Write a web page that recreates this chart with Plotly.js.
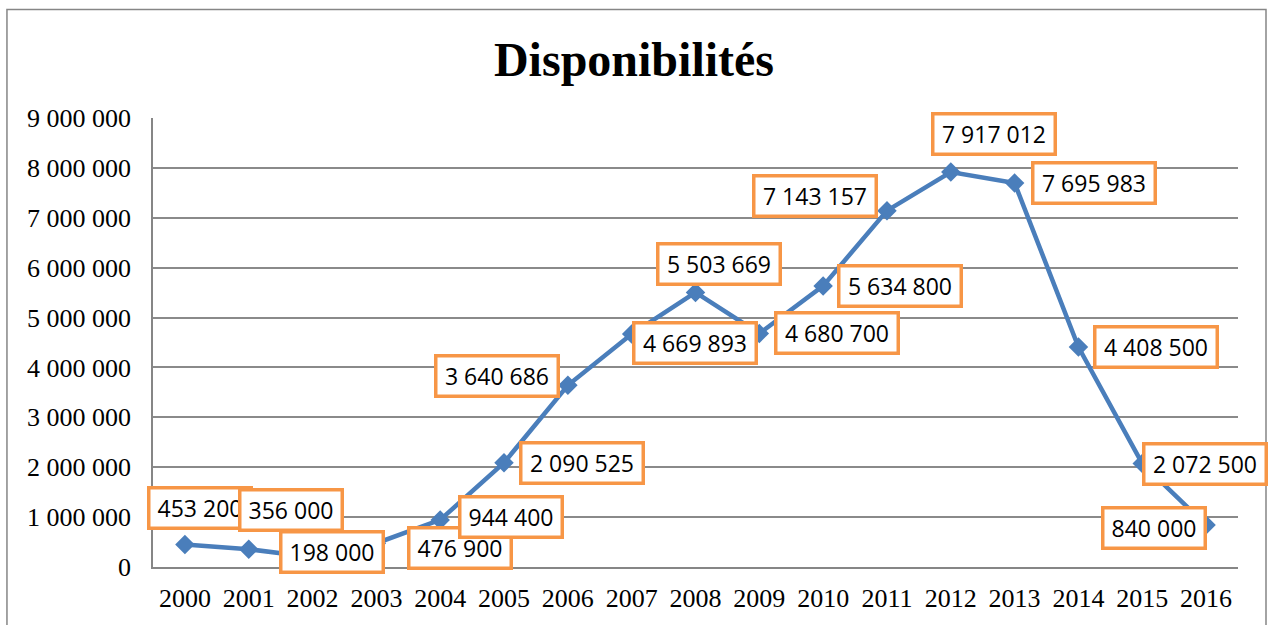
<!DOCTYPE html>
<html>
<head>
<meta charset="utf-8">
<script src="https://cdn.plot.ly/plotly-3.0.1.min.js"></script>
<style>html,body{margin:0;padding:0;background:#fff;}#chart{width:1268px;height:625px;}</style>
</head>
<body>
<div id="chart"></div>
<script>
// ---- data ----
var years = ["2000","2001","2002","2003","2004","2005","2006","2007","2008","2009","2010","2011","2012","2013","2014","2015","2016"];
var disponibilites = [453200, 356000, 198000, 476900, 944400, 2090525, 3640686, 4669893, 5503669, 4680700, 5634800, 7143157, 7917012, 7695983, 4408500, 2072500, 840000];
var yTickValues = [0, 1000000, 2000000, 3000000, 4000000, 5000000, 6000000, 7000000, 8000000, 9000000];
var chartTitle = "Disponibilités";

// ---- label placement (screen px offsets from each point) ----
var labelShift = [[15,-36],[42,-39],[19,-5],[84,5],[71,-3],[78,0],[-71,-9],[63,9],[23,-28],[78,0],[77,0],[-72,-15],[43,-38],[79,0],[78,0],[63,0],[-52,3]];

function fmt(v){ return String(v).replace(/\B(?=(\d{3})+(?!\d))/g, ' '); }

var annotations = years.map(function(yr, i){
  var txt = fmt(disponibilites[i]);
  return {
    x: i, y: disponibilites[i], xref: 'x', yref: 'y',
    text: txt, showarrow: false,
    xshift: labelShift[i][0], yshift: -labelShift[i][1],
    font: {family: 'Open Sans', size: 23, color: '#000000'},
    bgcolor: '#ffffff', bordercolor: '#F79646', borderwidth: 3.5, borderpad: 4,
    width: txt.length >= 9 ? 111 : 91, height: 29
  };
});

var trace = {
  x: years, y: disponibilites, type: 'scatter', mode: 'lines+markers',
  line: {color: '#4A7EBB', width: 4.5},
  marker: {symbol: 'diamond', size: 15, color: '#4A7EBB'},
  hoverinfo: 'skip', cliponaxis: false
};

var layout = {
  width: 1268, height: 625,
  margin: {l: 153, r: 30, t: 118, b: 58, pad: 0},
  paper_bgcolor: '#fff', plot_bgcolor: '#fff',
  separators: '. ',
  showlegend: false,
  title: {text: '<b>' + chartTitle + '</b>', xref: 'container', x: 0.5, xanchor: 'center',
          yref: 'container', y: 0.905, yanchor: 'middle',
          font: {family: 'Liberation Serif', size: 48, color: '#000'}},
  xaxis: {type: 'category', range: [-0.5, 16.5], showgrid: false, showline: true, linecolor: '#868686', linewidth: 1.5,
          ticks: '', tickfont: {family: 'Liberation Serif', size: 26, color: '#000'}, ticklabelstandoff: 7,
          zeroline: false, fixedrange: true},
  yaxis: {range: [0, 9000000], tickvals: yTickValues, tickformat: ',d', showgrid: true, gridcolor: '#8A8A8A', gridwidth: 1.5,
          showline: true, linecolor: '#868686', linewidth: 1.5, ticks: '', zeroline: false,
          tickfont: {family: 'Liberation Serif', size: 26, color: '#000'}, ticklabelstandoff: 15, fixedrange: true},
  shapes: [{type: 'rect', xref: 'paper', yref: 'paper', x0: -0.1346, x1: 1.0258, y0: -0.2, y1: 1.2416,
            line: {color: '#868686', width: 1.5}, fillcolor: 'rgba(0,0,0,0)', layer: 'below'}],
  annotations: annotations
};

Plotly.newPlot('chart', [trace], layout, {displayModeBar: false});
</script>
</body>
</html>
